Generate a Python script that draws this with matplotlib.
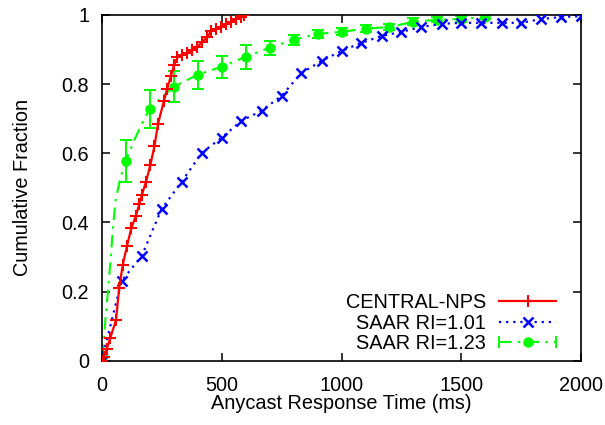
import matplotlib
matplotlib.use("Agg")
import matplotlib.pyplot as plt
from matplotlib.lines import Line2D
from matplotlib.legend_handler import HandlerLine2D, HandlerTuple

plt.rcParams['font.family'] = ['Liberation Sans', 'DejaVu Sans']

# CENTRAL-NPS
central_x = [0, 8, 22, 36, 60, 73, 88, 106, 124, 143, 157, 168, 185, 203, 220, 235, 259,
             273, 288, 302, 316, 337, 357, 378, 399, 420, 441, 455, 476, 497, 518, 539,
             560, 580, 595]
central_y = [0.0, 0.012, 0.035, 0.066, 0.118, 0.21, 0.277, 0.333, 0.384, 0.42, 0.453, 0.48,
             0.518, 0.566, 0.62, 0.685, 0.75, 0.785, 0.822, 0.855, 0.877, 0.884, 0.891,
             0.899, 0.908, 0.921, 0.937, 0.952, 0.96, 0.966, 0.973, 0.98, 0.988, 0.995, 1.0]

# SAAR RI=1.01
saar101_x = [0, 83, 167, 250, 333, 417, 500, 583, 667, 750, 833, 917, 1000, 1083, 1167,
             1250, 1333, 1417, 1500, 1583, 1667, 1750, 1833, 1917, 2000]
saar101_y = [0.0, 0.231, 0.303, 0.439, 0.517, 0.601, 0.645, 0.694, 0.723, 0.766, 0.832,
             0.867, 0.896, 0.919, 0.939, 0.951, 0.965, 0.974, 0.977, 0.977, 0.977, 0.977,
             0.988, 0.994, 0.996]

# SAAR RI=1.23 (line through all samples, markers with error bars)
saar123_line_x = [0, 5, 15, 26, 38, 47, 57, 76, 100, 137, 165, 200, 255, 300, 400, 500,
                  600, 700, 800, 900, 1000, 1100, 1200, 1300, 1400, 1500, 1600]
saar123_line_y = [0.012, 0.017, 0.114, 0.2, 0.297, 0.383, 0.46, 0.523, 0.578, 0.639, 0.682,
                  0.728, 0.765, 0.792, 0.827, 0.85, 0.879, 0.905, 0.928, 0.945, 0.951,
                  0.96, 0.965, 0.98, 0.986, 0.988, 0.994]
saar123_x = [0, 100, 200, 300, 400, 500, 600, 700, 800, 900, 1000, 1100, 1200, 1300, 1400,
             1500, 1600]
saar123_y = [0.012, 0.578, 0.728, 0.792, 0.827, 0.85, 0.879, 0.905, 0.928, 0.945, 0.951,
             0.96, 0.965, 0.98, 0.986, 0.988, 0.994]
saar123_err = [0.004, 0.06, 0.055, 0.045, 0.04, 0.032, 0.035, 0.02, 0.015, 0.012, 0.01,
               0.01, 0.01, 0.01, 0.008, 0.008, 0.005]

xticks = [0, 500, 1000, 1500, 2000]
yticks = [0, 0.2, 0.4, 0.6, 0.8, 1]
ytick_labels = ['0', '0.2', '0.4', '0.6', '0.8', '1']

RED = '#ff0000'
BLUE = '#0000ff'
GREEN = '#00ff00'
DASHDOT = (0, (6, 3, 1.2, 3))
FS = 14.3

fig = plt.figure(figsize=(6.05, 4.25), dpi=100)
ax = fig.add_axes([0.168, 0.151, 0.793, 0.814])

ax.plot(central_x, central_y, color=RED, lw=1.6, marker='+', ms=8.5, mew=1.5, zorder=4)
ax.plot(saar101_x, saar101_y, color=BLUE, lw=1.6, ls=(0, (1, 2.2)), marker='x', ms=7.5,
        mew=1.8, zorder=3)
ax.plot(saar123_line_x, saar123_line_y, color=GREEN, lw=1.5, ls=DASHDOT, zorder=2)
ax.errorbar(saar123_x, saar123_y, yerr=saar123_err, fmt='o', color=GREEN, ms=6.5,
            elinewidth=1.4, capsize=4, capthick=1.4, zorder=2)

ax.set_xlim(0, 2000)
ax.set_ylim(0, 1)
ax.set_xticks(xticks)
ax.set_xticklabels([str(t) for t in xticks])
ax.set_yticks(yticks)
ax.set_yticklabels(ytick_labels)
ax.tick_params(direction='in', length=6, width=1.1, top=True, right=True,
               labelsize=FS)
ax.tick_params(axis='x', pad=11)
ax.tick_params(axis='y', pad=9)
for s in ax.spines.values():
    s.set_linewidth(1.2)

ax.set_xlabel('Anycast Response Time (ms)', fontsize=FS, labelpad=-1)
ax.set_ylabel('Cumulative Fraction', fontsize=FS, labelpad=21)

h_red = Line2D([], [], color=RED, lw=1.6, marker='+', ms=8.5, mew=1.5)
h_blue = Line2D([], [], color=BLUE, lw=1.6, ls=(0, (1, 2.2)), marker='x', ms=7.5, mew=1.8)
h_green_line = Line2D([], [], color=GREEN, lw=1.5, ls=DASHDOT, marker='o', ms=6.5)
h_green_caps = Line2D([], [], color=GREEN, lw=0, marker='|', ms=8, mew=1.4)
leg = ax.legend([h_red, h_blue, (h_green_line, h_green_caps)],
                ['CENTRAL-NPS', 'SAAR RI=1.01', 'SAAR RI=1.23'],
                loc='lower right', bbox_to_anchor=(0.977, -0.018), frameon=False,
                markerfirst=False, fontsize=FS, handlelength=2.9, handletextpad=0.65,
                labelspacing=0.08, borderpad=0.2,
                handler_map={h_green_caps: HandlerLine2D(numpoints=2, marker_pad=0),
                             h_red: HandlerLine2D(numpoints=1),
                             h_blue: HandlerLine2D(numpoints=1),
                             h_green_line: HandlerLine2D(numpoints=1),
                             tuple: HandlerTuple(ndivide=1, pad=0)})

fig.savefig('out.png', dpi=100)
